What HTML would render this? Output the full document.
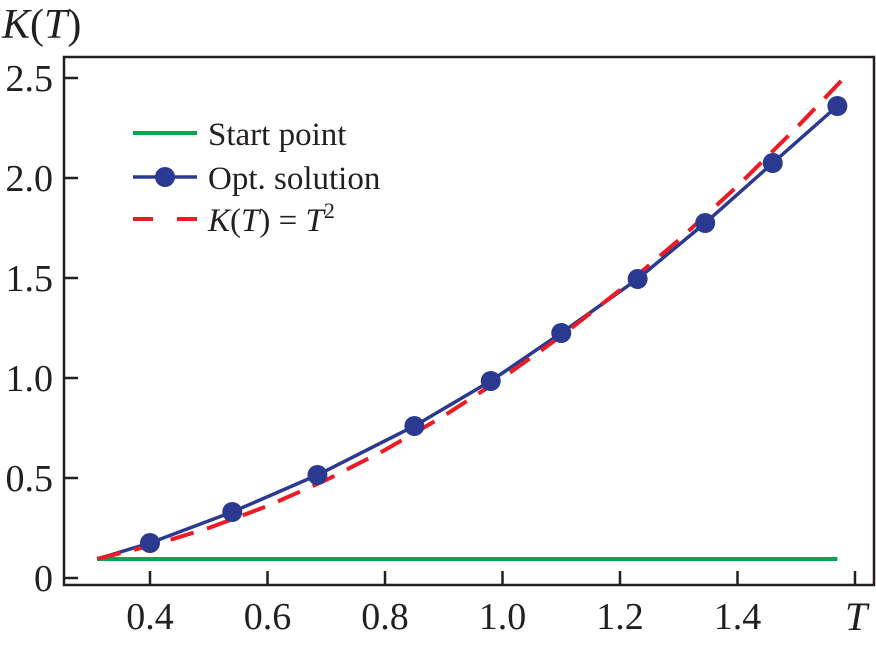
<!DOCTYPE html>
<html><head><meta charset="utf-8"><style>
body{margin:0;background:#fff}
svg text{font-family:"Liberation Serif",serif;fill:#231f20}
</style></head><body>
<svg width="876" height="642" viewBox="0 0 876 642">
<g id="plot"></g>
</svg>
<script>
const xTicks=[0.4,0.6,0.8,1.0,1.2,1.4,1.6];
const xTickLabels=["0.4","0.6","0.8","1.0","1.2","1.4",""];
const yTicks=[0,0.5,1.0,1.5,2.0,2.5];
const yTickLabels=["0","0.5","1.0","1.5","2.0","2.5"];
const startT=[0.31,1.57];
const startK=[0.095,0.095];
const optT=[0.31,0.4,0.54,0.685,0.85,0.98,1.1,1.23,1.345,1.46,1.57];
const optK=[0.095,0.175,0.33,0.515,0.76,0.985,1.225,1.495,1.775,2.075,2.36];
const refT=[0.31,0.4,0.5,0.6,0.7,0.8,0.9,1.0,1.1,1.2,1.3,1.4,1.5,1.58];
const refK=[0.096,0.16,0.25,0.36,0.49,0.64,0.81,1.0,1.21,1.44,1.69,1.96,2.25,2.4964];
const NS="http://www.w3.org/2000/svg";
const g=document.getElementById('plot');
const X=t=>150+(t-0.4)*587.5;
const Y=k=>578-200*k;
function mk(tag,attrs,parent){const e=document.createElementNS(NS,tag);for(const a in attrs)e.setAttribute(a,attrs[a]);(parent||g).appendChild(e);return e;}
const frame=mk('rect',{x:64,y:57,width:810,height:528,fill:'none',stroke:'#231f20','stroke-width':2.5});


xTicks.forEach((t,i)=>{
 const l=mk('line',{x1:X(t),x2:X(t),y1:585,y2:571,stroke:'#231f20','stroke-width':2.5});
 
 
 const tx=mk('text',{x:X(t),y:629,'font-size':38,'text-anchor':'middle'});tx.textContent=xTickLabels[i];
 
 
});
yTicks.forEach((k,i)=>{
 const l=mk('line',{x1:64,x2:78,y1:Y(k),y2:Y(k),stroke:'#231f20','stroke-width':2.5});
 
 
 const tx=mk('text',{x:53,y:Y(k)+13,'font-size':38,'text-anchor':'end'});tx.textContent=yTickLabels[i];
 
 
});
const pts=(T,K)=>T.map((t,i)=>X(t)+','+Y(K[i])).join(' ');
const s=mk('polyline',{points:pts(startT,startK),fill:'none',stroke:'#00a650','stroke-width':4});


const o=mk('polyline',{points:pts(optT,optK),fill:'none',stroke:'#2b3990','stroke-width':3.5});


const r=mk('polyline',{points:pts(refT,refK),fill:'none',stroke:'#ed1c24','stroke-width':4,'stroke-dasharray':'24,14'});


optT.forEach((t,i)=>{if(i===0)return;
 const c=mk('circle',{cx:X(t),cy:Y(optK[i]),r:10,fill:'#2b3990'});
 
 
});
</script>
<svg style="position:absolute;left:0;top:0" width="876" height="642">
<text x="2" y="38" font-size="42" font-style="italic">K<tspan font-style="normal">(</tspan>T<tspan font-style="normal">)</tspan></text>
<text x="845" y="630" font-size="40" font-style="italic">T</text>
<g>
<line x1="133" x2="197" y1="133" y2="133" stroke="#00a650" stroke-width="4"/>
<text x="208" y="145" font-size="33">Start point</text>
<line x1="133" x2="197" y1="177" y2="177" stroke="#2b3990" stroke-width="3.5"/>
<circle cx="165" cy="177" r="10" fill="#2b3990"/>
<text x="208" y="189" font-size="33">Opt. solution</text>
<line x1="133" x2="197" y1="219" y2="219" stroke="#ed1c24" stroke-width="4" stroke-dasharray="20,24"/>
<text x="208" y="231" font-size="33"><tspan font-style="italic">K</tspan>(<tspan font-style="italic">T</tspan>) = <tspan font-style="italic">T</tspan><tspan font-size="22" dy="-13">2</tspan></text>
</g>
</svg>
</body></html>
